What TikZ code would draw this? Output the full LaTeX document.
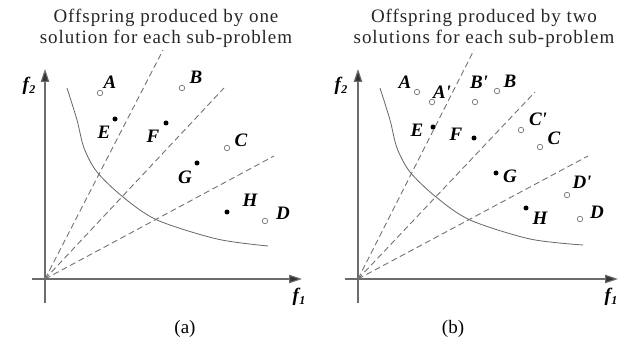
\documentclass[tikz,border=0pt]{standalone}
\usepackage{fontspec}
\setmainfont{Liberation Serif}
\newfontfamily\ttlfont[LetterSpace=5]{Liberation Serif}
\usetikzlibrary{arrows.meta}
\begin{document}
\begin{tikzpicture}[x=1pt,y=-1pt,
  axis/.style={draw=gray!85!black, line width=1.1pt, -{Triangle[length=13pt,width=8.5pt,fill=gray!40!black]}},
  ray/.style={draw=gray!90!black, line width=0.9pt, dash pattern=on 6pt off 3.5pt},
  front/.style={draw=gray!80!black, line width=0.8pt},
  opt/.style={circle, draw=gray!90!black, fill=white, line width=0.7pt, inner sep=0pt, minimum size=5.5pt},
  fpt/.style={circle, fill=black, inner sep=0pt, minimum size=5pt},
  lbl/.style={font=\fontsize{19}{19}\selectfont\bfseries\itshape, inner sep=0pt},
  ttl/.style={font=\ttlfont\fontsize{19}{21}\selectfont, align=center, text=black!85},
  captxt/.style={font=\fontsize{19}{19}\selectfont, inner sep=0pt},
]
\useasboundingbox (0,0) rectangle (631,344);

% ---------------- panel (a) ----------------
\node[ttl] (ta) at (166,28) {Offspring produced by one\\solution for each sub-problem};
\coordinate (aO) at (45,279);
\coordinate (aYb) at (45,303);
\coordinate (aYt) at (45,69);
\coordinate (aXl) at (32,279);
\coordinate (aXr) at (302,279);
\draw[axis] (aYb) -- (aYt);
\draw[axis] (aXl) -- (aXr);
\node[lbl] (af2) at (29,86) {f\kern0.5pt\raisebox{-3pt}{\fontsize{12}{12}\selectfont 2}};
\node[lbl] (af1) at (299,297) {f\kern0.5pt\raisebox{-3pt}{\fontsize{12}{12}\selectfont 1}};
\coordinate (ar1) at (163,50);
\coordinate (ar2) at (224,88);
\coordinate (ar3) at (274,156);
\draw[ray] (aO) -- (ar1);
\draw[ray] (aO) -- (ar2);
\draw[ray] (aO) -- (ar3);
\draw[front] plot[smooth] coordinates {(67,88) (77,120) (84,148) (97,172) (123,197) (157,220) (217,239) (268,246)};
\node[opt] (aA) at (100,93) {};  \node[lbl] (aAl) at (110,82) {A};
\node[opt] (aB) at (182,88) {};  \node[lbl] (aBl) at (196,77) {B};
\node[fpt] (aE) at (115,119) {}; \node[lbl] (aEl) at (104,132) {E};
\node[fpt] (aF) at (166,123) {}; \node[lbl] (aFl) at (153,136) {F};
\node[opt] (aC) at (227,148) {};  \node[lbl] (aCl) at (241,140) {C};
\node[fpt] (aG) at (197,163) {}; \node[lbl] (aGl) at (185,177) {G};
\node[fpt] (aH) at (227,212) {}; \node[lbl] (aHl) at (250,200) {H};
\node[opt] (aD) at (265,221) {};  \node[lbl] (aDl) at (283,213) {D};
\node[captxt] (capa) at (185,329) {(a)};

% ---------------- panel (b) ----------------
\node[ttl] (tb) at (484,28) {Offspring produced by two\\solutions for each sub-problem};
\coordinate (bO) at (358,279);
\coordinate (bYb) at (358,303);
\coordinate (bYt) at (358,69);
\coordinate (bXl) at (345,279);
\coordinate (bXr) at (618,279);
\draw[axis] (bYb) -- (bYt);
\draw[axis] (bXl) -- (bXr);
\node[lbl] (bf2) at (341,86) {f\kern0.5pt\raisebox{-3pt}{\fontsize{12}{12}\selectfont 2}};
\node[lbl] (bf1) at (611,297) {f\kern0.5pt\raisebox{-3pt}{\fontsize{12}{12}\selectfont 1}};
\coordinate (br1) at (474,50);
\coordinate (br2) at (535,92);
\coordinate (br3) at (588,156);
\draw[ray] (bO) -- (br1);
\draw[ray] (bO) -- (br2);
\draw[ray] (bO) -- (br3);
\draw[front] plot[smooth] coordinates {(380,88) (390,120) (397,148) (410,172) (436,197) (470,220) (530,239) (583,245)};
\node[opt] (bA) at (417,92) {};   \node[lbl] (bAl) at (405,82) {A};
\node[opt] (bA2) at (432,102) {}; \node[lbl] (bA2l) at (442,92) {A\textquotesingle};
\node[opt] (bB2) at (475,102) {}; \node[lbl] (bB2l) at (479,82) {B\textquotesingle};
\node[opt] (bB) at (497,91) {};   \node[lbl] (bBl) at (510,81) {B};
\node[fpt] (bE) at (433,127) {};  \node[lbl] (bEl) at (417,130) {E};
\node[fpt] (bF) at (474,138) {};  \node[lbl] (bFl) at (456,134) {F};
\node[opt] (bC2) at (521,130) {}; \node[lbl] (bC2l) at (538,119) {C\textquotesingle};
\node[opt] (bC) at (540,147) {};  \node[lbl] (bCl) at (554,138) {C};
\node[fpt] (bG) at (496,173) {};  \node[lbl] (bGl) at (510,176) {G};
\node[opt] (bD2) at (567,195) {}; \node[lbl] (bD2l) at (582,182) {D\textquotesingle};
\node[fpt] (bH) at (526,208) {};  \node[lbl] (bHl) at (540,218) {H};
\node[opt] (bD) at (580,219) {};  \node[lbl] (bDl) at (597,212) {D};
\node[captxt] (capb) at (453,329) {(b)};
\end{tikzpicture}
\end{document}
